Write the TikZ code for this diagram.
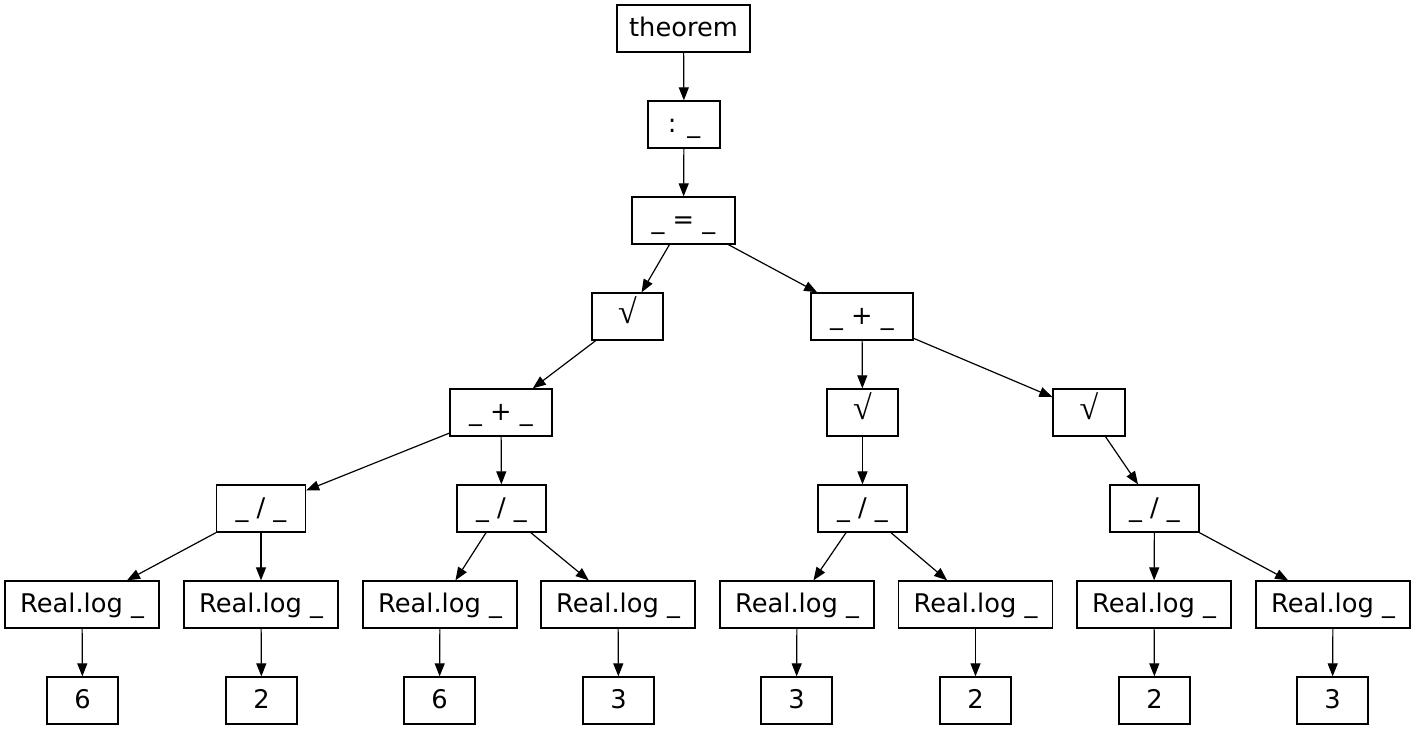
\documentclass[tikz,border=0pt]{standalone}
\usepackage{fontspec}
\setmainfont{DejaVu Sans}
\newfontfamily\rootfont{Liberation Serif}
\newcommand{\myroot}{{\fontsize{34}{40}\rootfont\raisebox{1pt}{√}}}
\usetikzlibrary{arrows.meta}
\tikzset{
  box/.style={draw, line width=1.3pt, rectangle, inner sep=0pt, minimum height=47pt,
    font=\fontsize{25.7}{30}\selectfont, text height=19pt, text depth=4pt},
  edge/.style={line width=1.2pt, -{Triangle[length=13pt,width=10pt]}}
}
\begin{document}
\begin{tikzpicture}[x=1pt,y=-1pt]
\useasboundingbox (0,0) rectangle (1416,731);
\node[box, minimum width=133pt] (th) at (683.5,28.5) {theorem};
\node[box, minimum width=72pt] (co) at (684,124.5) {: \_};
\node[box, minimum width=103pt] (eq) at (683.5,220.5) {\_ = \_};
\node[box, minimum width=71pt] (sL) at (627.5,316.5) {\myroot};
\node[box, minimum width=102pt] (pR) at (862,316.5) {\_ + \_};
\node[box, minimum width=102pt] (pL) at (501,412.5) {\_ + \_};
\node[box, minimum width=71pt] (sM) at (862.5,412.5) {\myroot};
\node[box, minimum width=72pt] (sR) at (1089,412.5) {\myroot};
\node[box, minimum width=89pt] (d1) at (261,508.5) {\_ / \_};
\node[box, minimum width=89pt] (d2) at (501.5,508.5) {\_ / \_};
\node[box, minimum width=89pt] (d3) at (862.5,508.5) {\_ / \_};
\node[box, minimum width=89pt] (d4) at (1154.5,508.5) {\_ / \_};
\foreach \i/\x in {1/82,2/261,3/440,4/618,5/797,6/975.5,7/1154,8/1333}{
  \node[box, minimum width=154pt] (r\i) at (\x,604.5) {Real.log \_};
}
\foreach \i/\x/\t in {1/82.5/6,2/261.5/2,3/439.5/6,4/618.5/3,5/796.5/3,6/975.5/2,7/1154.5/2,8/1332.5/3}{
  \node[box, minimum width=71pt] (l\i) at (\x,700.5) {\t};
}
\draw[edge] (th) -- (co);
\draw[edge] (co) -- (eq);
\draw[edge] (eq) -- (sL);
\draw[edge] (eq) -- (pR);
\draw[edge] (sL) -- (pL);
\draw[edge] (pL) -- (d1);
\draw[edge] (pL) -- (d2);
\draw[edge] (pR) -- (sM);
\draw[edge] (pR) -- (sR);
\draw[edge] (sM) -- (d3);
\draw[edge] (sR) -- (d4);
\draw[edge] (d1) -- (r1);
\draw[edge] (d1) -- (r2);
\draw[edge] (d2) -- (r3);
\draw[edge] (d2) -- (r4);
\draw[edge] (d3) -- (r5);
\draw[edge] (d3) -- (r6);
\draw[edge] (d4) -- (r7);
\draw[edge] (d4) -- (r8);
\foreach \i in {1,...,8}{ \draw[edge] (r\i) -- (l\i); }
\end{tikzpicture}
\end{document}
